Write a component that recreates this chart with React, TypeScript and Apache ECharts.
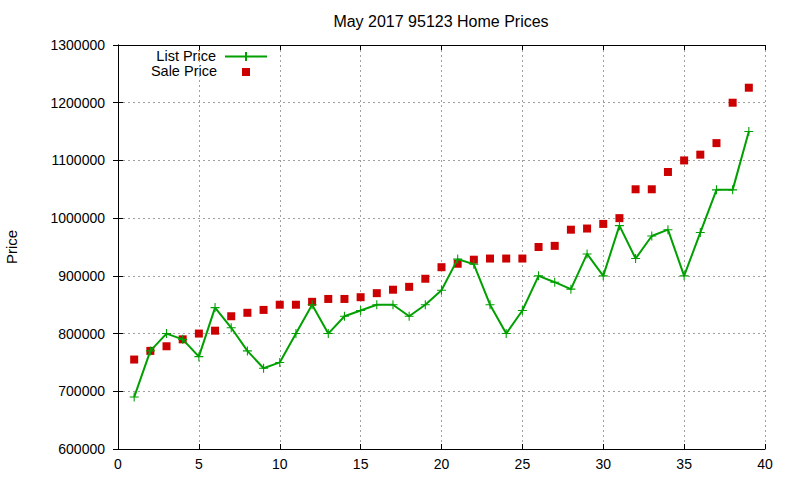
import React, { useEffect, useRef } from "react";
import * as echarts from "echarts";

const titleText = "May 2017 95123 Home Prices";
const yAxisName = "Price";
const seriesNames = ["List Price", "Sale Price"];
const indices = [
  1, 2, 3, 4, 5, 6, 7, 8, 9, 10, 11, 12, 13, 14, 15, 16, 17, 18, 19, 20,
  21, 22, 23, 24, 25, 26, 27, 28, 29, 30, 31, 32, 33, 34, 35, 36, 37, 38, 39,
];
const listPrice = [
  690000, 770000, 800000, 790000, 760000, 845000, 810000, 770000, 740000, 750000,
  800000, 850000, 800000, 830000, 840000, 850000, 850000, 830000, 850000, 875000,
  929000, 920000, 850000, 800000, 840000, 900000, 889000, 877000, 938000, 900000,
  987000, 930000, 969000, 980000, 900000, 975000, 1049000, 1049000, 1150000,
];
const salePrice = [
  755000, 770000, 778000, 790000, 800000, 805000, 830000, 836000, 841000, 850000,
  850000, 855000, 860000, 860000, 863000, 870000, 876000, 881000, 895000, 915000,
  921000, 928000, 930000, 930000, 930000, 950000, 952000, 980000, 982000, 990000,
  1000000, 1050000, 1050000, 1080000, 1100000, 1110000, 1130000, 1200000, 1226000,
];

const GREEN = "#00a000";
const RED = "#cc0000";
const FONT = "Liberation Sans, Arial, sans-serif";
const PLUS = "path://M-1,-0.12H1V0.12H-1Z M-0.12,-1H0.12V1H-0.12Z";

export default function App() {
  const ref = useRef<HTMLDivElement>(null);
  useEffect(() => {
    if (!ref.current) return;
    const chart = echarts.init(ref.current, null, { renderer: "svg" });
    const grid = {
      left: 118,
      right: 35,
      top: 45,
      bottom: 31,
      containLabel: false,
      outerBoundsMode: "none",
    };
    const splitLine = {
      show: true,
      lineStyle: { color: "#a0a0a0", type: [2, 3] as any, width: 1 },
    };
    const axisLine = { show: true, lineStyle: { color: "#000", width: 1 } };
    const axisTick = { show: true, inside: true, length: 5, lineStyle: { color: "#000" } };
    const label = { color: "#000", fontSize: 14, fontFamily: FONT };
    chart.setOption({
      animation: false,
      backgroundColor: "#fff",
      grid,
      xAxis: [
        {
          type: "value",
          min: 0,
          max: 40,
          interval: 5,
          axisLine,
          axisTick,
          splitLine,
          axisLabel: { ...label, margin: 8 },
        },
        {
          type: "value",
          position: "top",
          min: 0,
          max: 40,
          interval: 5,
          axisLine,
          axisTick,
          splitLine: { show: false },
          axisLabel: { show: false },
        },
      ],
      yAxis: [
        {
          type: "value",
          min: 600000,
          max: 1300000,
          interval: 100000,
          axisLine,
          axisTick,
          splitLine,
          axisLabel: { ...label, margin: 13, formatter: (v: number) => String(v) },
          name: yAxisName,
          nameLocation: "middle",
          nameGap: 99,
          nameTextStyle: { ...label, fontSize: 15 },
        },
        {
          type: "value",
          position: "right",
          min: 600000,
          max: 1300000,
          interval: 100000,
          axisLine,
          axisTick,
          splitLine: { show: false },
          axisLabel: { show: false },
        },
      ],
      series: [
        {
          name: seriesNames[0],
          type: "line",
          data: indices.map((x, i) => [x, listPrice[i]]),
          symbol: PLUS,
          symbolSize: 9,
          showAllSymbol: true,
          lineStyle: { color: GREEN, width: 2 },
          itemStyle: { color: GREEN, opacity: 1 },
        },
        {
          name: seriesNames[1],
          type: "scatter",
          data: indices.map((x, i) => [x, salePrice[i]]),
          symbol: "rect",
          symbolSize: 8,
          itemStyle: { color: RED, opacity: 1 },
        },
      ],
      graphic: [
        {
          type: "text",
          x: 441,
          y: 21,
          style: {
            text: titleText,
            fill: "#000",
            font: `16px ${FONT}`,
            align: "center",
            verticalAlign: "middle",
          },
        },
        {
          type: "text",
          x: 216,
          y: 55.5,
          style: {
            text: seriesNames[0],
            fill: "#000",
            font: `14.5px ${FONT}`,
            align: "right",
            verticalAlign: "middle",
          },
        },
        {
          type: "line",
          shape: { x1: 225, y1: 56.5, x2: 267, y2: 56.5 },
          style: { stroke: GREEN, lineWidth: 2 },
        },
        {
          type: "line",
          shape: { x1: 246, y1: 52, x2: 246, y2: 61 },
          style: { stroke: GREEN, lineWidth: 2 },
        },
        {
          type: "text",
          x: 217,
          y: 71,
          style: {
            text: seriesNames[1],
            fill: "#000",
            font: `14.5px ${FONT}`,
            align: "right",
            verticalAlign: "middle",
          },
        },
        {
          type: "rect",
          shape: { x: 242, y: 68, width: 8, height: 8 },
          style: { fill: RED },
        },
      ],
    });
    return () => chart.dispose();
  }, []);
  return (
    <div
      ref={ref}
      style={{ position: "fixed", left: 0, top: 0, width: 800, height: 480 }}
    />
  );
}
